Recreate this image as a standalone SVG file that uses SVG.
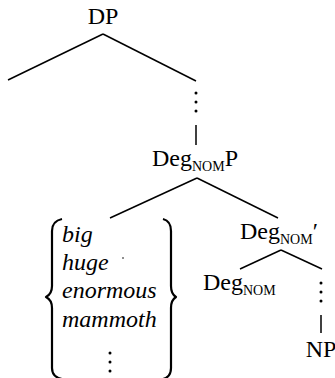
<svg xmlns="http://www.w3.org/2000/svg" width="335" height="378" viewBox="0 0 335 378">
<style>
.t{font-family:"Liberation Serif","Times New Roman",serif;font-size:24px;fill:#000}
.s{font-family:"Liberation Serif","Times New Roman",serif;font-size:14px;fill:#000}
.i{font-family:"Liberation Serif","Times New Roman",serif;font-size:24px;font-style:italic;fill:#000}
.ln{stroke:#000;stroke-width:1.5;fill:none}
.br{stroke:#000;stroke-width:2.2;fill:none;stroke-linejoin:round}
.d{fill:#000}
</style>
<rect width="335" height="378" fill="#fff"/>
<g id="connectors">
<line class="ln" x1="103" y1="34" x2="8" y2="80"/>
<line class="ln" x1="103" y1="34" x2="196" y2="81"/>
<circle class="d" cx="196" cy="93" r="1.5"/>
<circle class="d" cx="196" cy="102" r="1.5"/>
<circle class="d" cx="196" cy="111" r="1.5"/>
<line class="ln" x1="196" y1="125" x2="196" y2="145"/>
<line class="ln" x1="197" y1="178" x2="110" y2="218"/>
<line class="ln" x1="197" y1="178" x2="278" y2="218"/>
<line class="ln" x1="281" y1="250" x2="240" y2="269"/>
<line class="ln" x1="281" y1="250" x2="322" y2="269"/>
<circle class="d" cx="321" cy="283" r="1.5"/>
<circle class="d" cx="321" cy="292" r="1.5"/>
<circle class="d" cx="321" cy="301" r="1.5"/>
<line class="ln" x1="321" y1="315" x2="321" y2="333"/>
</g>
<g id="DP"><text class="t" x="103" y="24" text-anchor="middle">DP</text></g>
<g id="DegNomP"><text class="t" x="152" y="166">Deg<tspan class="s" dy="5">NOM</tspan><tspan dy="-5">P</tspan></text></g>
<g id="list">
<path class="br" d="M62,219 Q52,221 52,231 L52,286 Q52,294 46,297 Q52,300 52,308 L52,368 Q52,377 62,379"/>
<path class="br" d="M163,219 Q171,221 171,231 L171,286 Q171,294 176,297 Q171,300 171,308 L171,368 Q171,377 163,379"/>
<text class="i" x="62" y="242">big</text>
<text class="i" x="62" y="270">huge</text>
<text class="i" x="62" y="298">enormous</text>
<text class="i" x="62" y="327">mammoth</text>
<circle class="d" cx="110" cy="353" r="1.5"/>
<circle class="d" cx="110" cy="362" r="1.5"/>
<circle class="d" cx="110" cy="371" r="1.5"/>
<circle class="d" cx="123" cy="258" r="0.8"/>
</g>
<g id="DegNomBar"><text class="t" x="240" y="239">Deg<tspan class="s" dy="5">NOM</tspan><tspan dy="-5">′</tspan></text></g>
<g id="DegNom"><text class="t" x="203" y="290">Deg<tspan class="s" dy="5">NOM</tspan></text></g>
<g id="NP"><text class="t" x="321" y="357" text-anchor="middle">NP</text></g>
</svg>
